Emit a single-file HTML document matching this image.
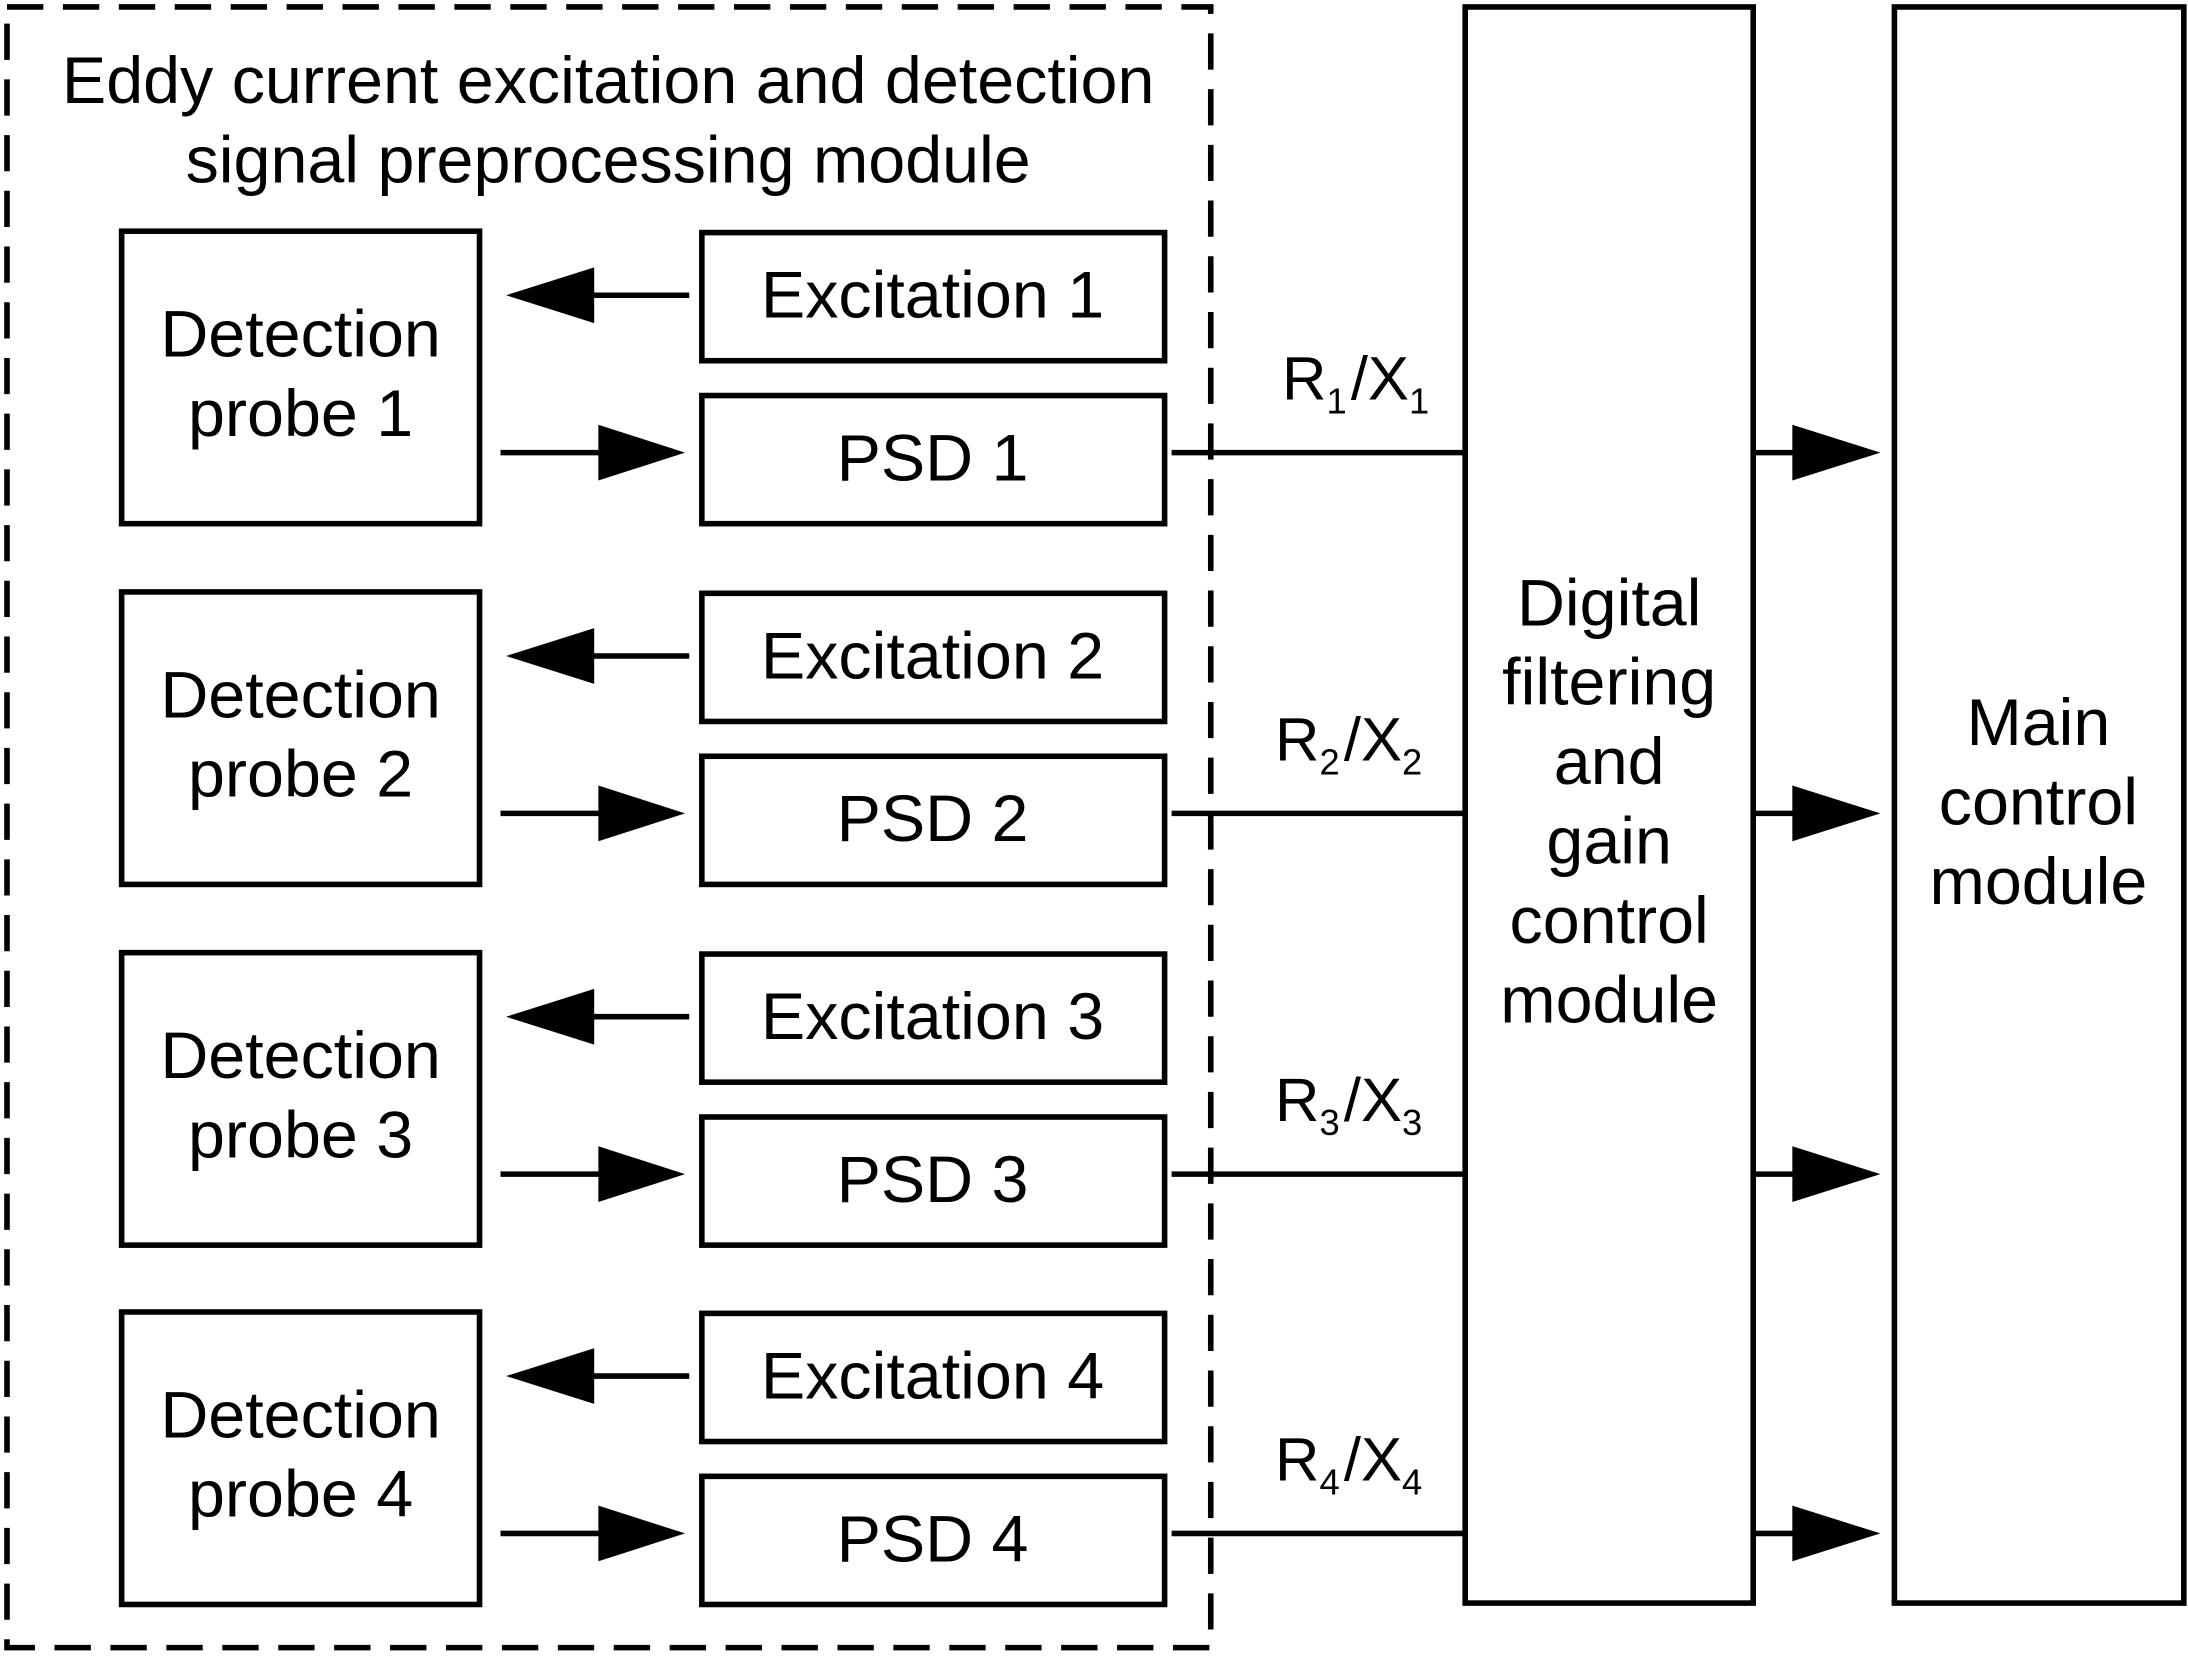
<!DOCTYPE html>
<html><head><meta charset="utf-8"><style>
html,body{margin:0;padding:0;background:#fff;}
svg{display:block;}
text{font-family:"Liberation Sans",Arial,sans-serif;fill:#000;}
</style></head><body>
<svg width="2188" height="1656" viewBox="0 0 1565 1189" preserveAspectRatio="none" xmlns="http://www.w3.org/2000/svg">
<defs>
<g id="row">
<rect x="87" y="166" width="256" height="210" fill="none" stroke="#000" stroke-width="4"/>
<rect x="502" y="167" width="331" height="92" fill="none" stroke="#000" stroke-width="4"/>
<rect x="502" y="284" width="331" height="92" fill="none" stroke="#000" stroke-width="4"/>
<line x1="420" y1="212" x2="493" y2="212" stroke="#000" stroke-width="4"/>
<polygon points="362,212 425,192 425,232" fill="#000"/>
<line x1="358" y1="325" x2="432" y2="325" stroke="#000" stroke-width="4"/>
<polygon points="490,325 428,305 428,345" fill="#000"/>
<line x1="838" y1="325" x2="1048" y2="325" stroke="#000" stroke-width="4"/>
<line x1="1256" y1="325" x2="1290" y2="325" stroke="#000" stroke-width="4"/>
<polygon points="1345,325 1282,305 1282,345" fill="#000"/>
</g>
</defs>
<rect x="5" y="5" width="861" height="1178" fill="none" stroke="#000" stroke-width="4" stroke-dasharray="26,14"/>
<text x="435" y="74" font-size="47.5" text-anchor="middle">Eddy current excitation and detection</text>
<text x="435" y="131" font-size="47.5" text-anchor="middle">signal preprocessing module</text>

<use href="#row"/>
<use href="#row" transform="translate(0,259)"/>
<use href="#row" transform="translate(0,518)"/>
<use href="#row" transform="translate(0,776)"/>

<g font-size="47.5" text-anchor="middle">
<text x="215" y="256">Detection</text><text x="215" y="313">probe 1</text>
<text x="667" y="228">Excitation 1</text><text x="667" y="345">PSD 1</text>
<text x="215" y="515">Detection</text><text x="215" y="572">probe 2</text>
<text x="667" y="487">Excitation 2</text><text x="667" y="604">PSD 2</text>
<text x="215" y="774">Detection</text><text x="215" y="831">probe 3</text>
<text x="667" y="746">Excitation 3</text><text x="667" y="863">PSD 3</text>
<text x="215" y="1032">Detection</text><text x="215" y="1089">probe 4</text>
<text x="667" y="1004">Excitation 4</text><text x="667" y="1121">PSD 4</text>
</g>

<g font-size="44">
<text x="917" y="287">R<tspan font-size="26" dy="10">1</tspan><tspan dy="-10" dx="3">/X</tspan><tspan font-size="26" dy="10">1</tspan></text>
<text x="912" y="546">R<tspan font-size="26" dy="10">2</tspan><tspan dy="-10" dx="3">/X</tspan><tspan font-size="26" dy="10">2</tspan></text>
<text x="912" y="805">R<tspan font-size="26" dy="10">3</tspan><tspan dy="-10" dx="3">/X</tspan><tspan font-size="26" dy="10">3</tspan></text>
<text x="912" y="1063">R<tspan font-size="26" dy="10">4</tspan><tspan dy="-10" dx="3">/X</tspan><tspan font-size="26" dy="10">4</tspan></text>
</g>

<rect x="1048" y="5" width="206" height="1146" fill="none" stroke="#000" stroke-width="4"/>
<g font-size="47.5" text-anchor="middle">
<text x="1151" y="449">Digital</text>
<text x="1151" y="506">filtering</text>
<text x="1151" y="563">and</text>
<text x="1151" y="620">gain</text>
<text x="1151" y="677">control</text>
<text x="1151" y="734">module</text>
</g>
<rect x="1355" y="5" width="207" height="1146" fill="none" stroke="#000" stroke-width="4"/>
<g font-size="47.5" text-anchor="middle">
<text x="1458" y="535">Main</text>
<text x="1458" y="592">control</text>
<text x="1458" y="649">module</text>
</g>
</svg>
</body></html>
